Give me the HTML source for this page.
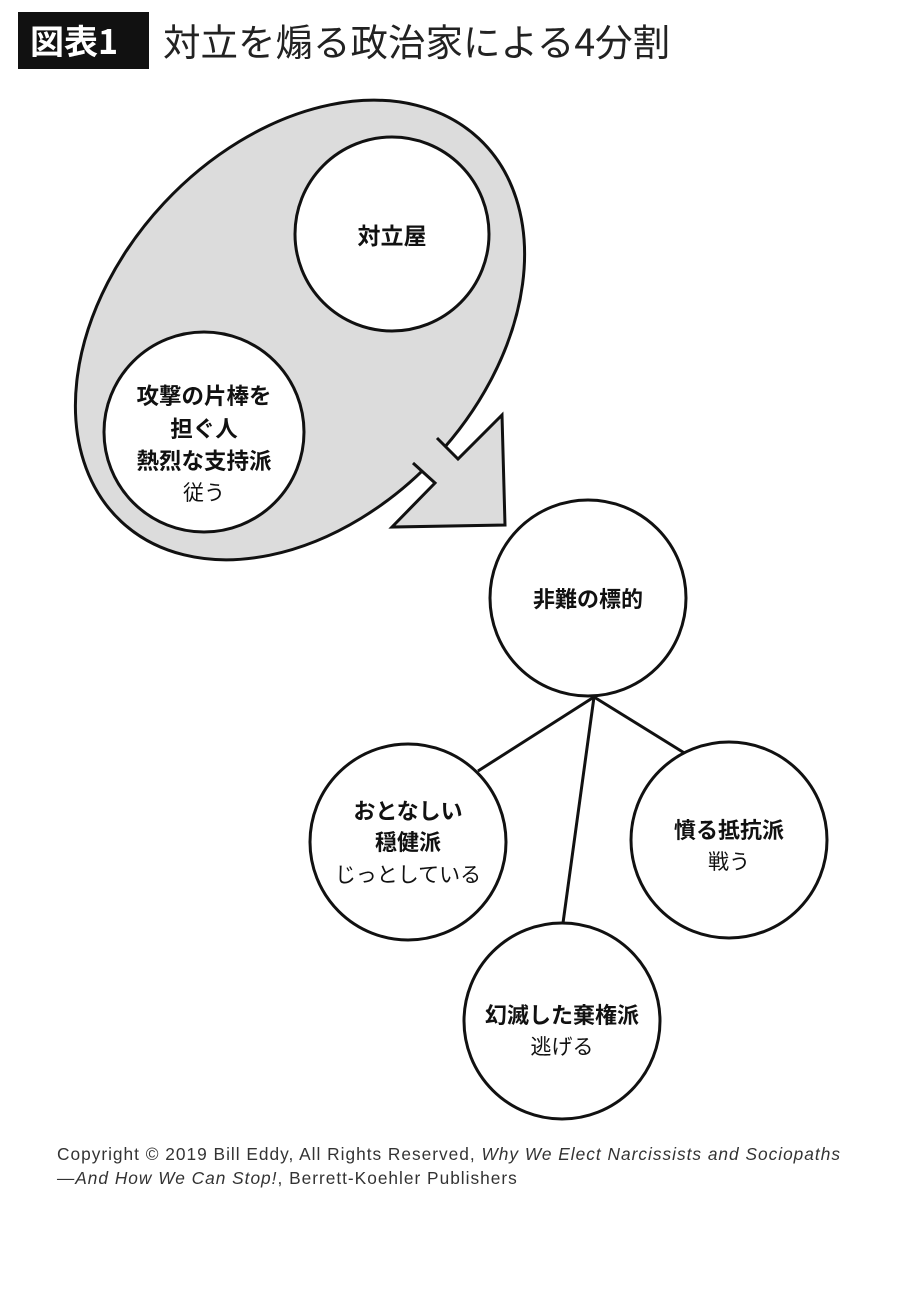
<!DOCTYPE html>
<html><head><meta charset="utf-8"><style>
body{margin:0;background:#fff;width:900px;height:1300px;overflow:hidden;font-family:"Liberation Sans","Noto Sans CJK JP",sans-serif;}
</style></head><body>
<svg width="900" height="1300" xmlns="http://www.w3.org/2000/svg" style="position:absolute;left:0;top:0">
<rect x="18" y="12" width="131" height="57" fill="#111"/>
<text x="30" y="54" font-size="34" font-weight="bold" fill="#fff" font-family="Noto Sans CJK JP, sans-serif">図表1</text>
<text x="163" y="56" font-size="37.5" fill="#222" font-family="Noto Sans CJK JP, sans-serif">対立を煽る政治家による4分割</text>

<ellipse cx="300" cy="330" rx="262" ry="186" transform="rotate(-47 300 330)" fill="#dcdcdc" stroke="#111" stroke-width="3"/>
<polygon points="437,438 458,459 502,415 505,525 392,527 435,483 413,463 395,440 425,415" fill="#dcdcdc"/>
<polyline points="437,438 458,459 502,415 505,525 392,527 435,483 413,463" fill="none" stroke="#111" stroke-width="3" stroke-linejoin="miter"/>

<g stroke="#111" stroke-width="3">
<line x1="594" y1="697" x2="478" y2="771"/>
<line x1="594" y1="697" x2="563" y2="923"/>
<line x1="594" y1="697" x2="686" y2="754"/>
</g>
<g fill="#fff" stroke="#111" stroke-width="3">
<circle cx="392" cy="234" r="97"/>
<circle cx="204" cy="432" r="100"/>
<circle cx="588" cy="598" r="98"/>
<circle cx="408" cy="842" r="98"/>
<circle cx="729" cy="840" r="98"/>
<circle cx="562" cy="1021" r="98"/>
</g>
<g font-family="Noto Sans CJK JP, sans-serif" font-size="21" fill="#111" text-anchor="middle">
<text x="392" y="244" font-weight="bold" font-size="23">対立屋</text>
<text x="204" y="404" font-weight="bold" font-size="22.5">攻撃の片棒を</text>
<text x="204" y="437" font-weight="bold" font-size="22.5">担ぐ人</text>
<text x="204" y="469" font-weight="bold" font-size="22.5">熱烈な支持派</text>
<text x="204" y="500">従う</text>
<text x="588" y="607" font-weight="bold" font-size="22">非難の標的</text>
<text x="408" y="819" font-weight="bold" font-size="22">おとなしい</text>
<text x="408" y="850" font-weight="bold" font-size="22">穏健派</text>
<text x="408" y="882">じっとしている</text>
<text x="729" y="838" font-weight="bold" font-size="22">憤る抵抗派</text>
<text x="729" y="869">戦う</text>
<text x="562" y="1023" font-weight="bold" font-size="22">幻滅した棄権派</text>
<text x="562" y="1054">逃げる</text>
</g>
<g font-family="Liberation Sans, sans-serif" font-size="17.3" fill="#333" letter-spacing="1">
<text x="57" y="1160">Copyright © 2019 Bill Eddy, All Rights Reserved, <tspan font-style="italic">Why We Elect Narcissists and Sociopaths</tspan></text>
<text x="57" y="1184"><tspan font-style="italic">—And How We Can Stop!</tspan>, Berrett-Koehler Publishers</text>
</g>
</svg>
</body></html>
